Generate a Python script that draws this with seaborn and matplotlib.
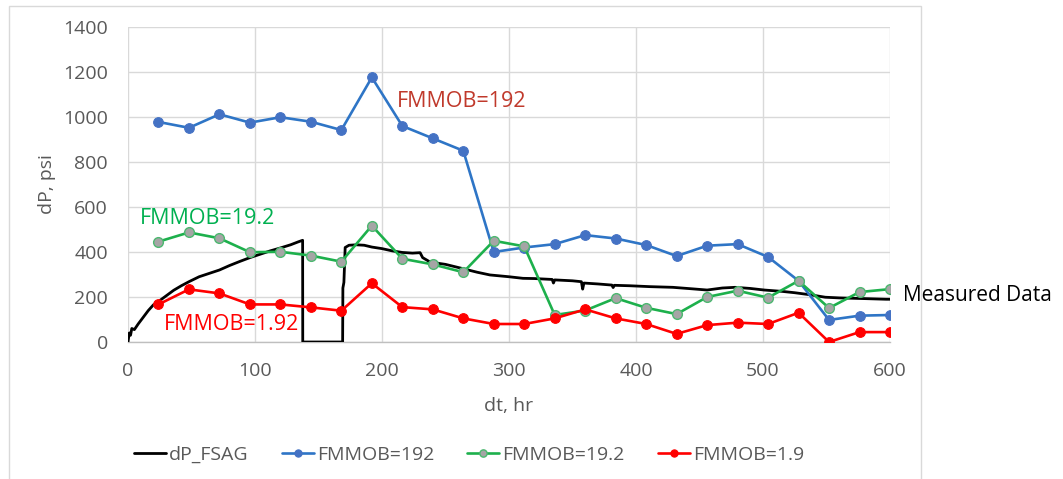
import numpy as np
import pandas as pd
import matplotlib
matplotlib.use("Agg")
import matplotlib.pyplot as plt
import seaborn as sns
from matplotlib.patches import Rectangle

# ---------------- data ----------------
dt_sim = [24, 48, 72, 96, 120, 144, 168, 192, 216, 240, 264, 288, 312,
          336, 360, 384, 408, 432, 456, 480, 504, 528, 552, 576, 600]
fmmob_192 = [978, 952, 1012, 975, 999, 979, 942, 1176, 960, 905, 850, 400, 420,
             435, 475, 460, 431, 382, 428, 435, 378, 272, 98, 117, 120]
fmmob_19_2 = [446, 487, 461, 399, 401, 384, 357, 517, 370, 345, 310, 450, 425,
              120, 140, 195, 152, 124, 200, 228, 197, 272, 151, 222, 235]
fmmob_1_9 = [167, 234, 216, 167, 167, 154, 139, 261, 155, 145, 105, 80, 80,
             105, 145, 105, 80, 36, 75, 86, 80, 130, 0, 44, 44]

dt_meas = [0, 1, 2, 3, 5, 8, 12, 16, 20, 24, 30, 36, 42, 48, 56, 64, 72, 80, 88,
           96, 104, 112, 120, 128, 134, 137.5, 137.6, 169, 169.2, 170, 171, 174,
           180, 186, 192, 200, 208, 216, 224, 230, 232, 238, 250, 263, 275, 285,
           300, 311, 320, 334, 335, 336, 350, 357, 358, 359, 370, 381, 382, 383,
           395, 411, 429, 445, 456, 468, 478, 490, 501, 515, 525, 537, 549, 560,
           573, 585, 597, 600]
dp_meas = [0, 40, 30, 60, 55, 80, 110, 140, 165, 180, 205, 230, 250, 268, 290,
           305, 320, 340, 358, 375, 390, 405, 418, 432, 445, 452, 0, 0, 240, 265,
           420, 430, 432, 430, 422, 415, 405, 398, 395, 397, 375, 355, 345, 327,
           310, 298, 290, 283, 282, 278, 262, 276, 272, 268, 235, 262, 258, 253,
           242, 252, 250, 246, 243, 236, 231, 240, 243, 238, 231, 225, 219, 210,
           199, 196, 194, 192, 190, 190]

series_names = ["dP_FSAG", "FMMOB=192", "FMMOB=19.2", "FMMOB=1.9"]
x_ticks = [0, 100, 200, 300, 400, 500, 600]
y_ticks = [0, 200, 400, 600, 800, 1000, 1200, 1400]

# ---------------- style ----------------
sns.set_theme(style="whitegrid")
plt.rcParams["font.family"] = ["Open Sans", "DejaVu Sans"]

W, H = 1063, 479
fig = plt.figure(figsize=(W / 100, H / 100), dpi=100)
fig.patch.set_facecolor("white")
# chart-area frame (bottom edge falls outside the image)
fig.add_artist(Rectangle((8.5 / W, -10 / H), (921 - 8.5) / W, (H + 10 - 5.5) / H,
                         transform=fig.transFigure, fill=False,
                         edgecolor="#D9D9D9", linewidth=1.0))

ax = fig.add_axes([128 / W, (H - 342) / H, (890 - 128) / W, (342 - 27) / H])
ax.set_facecolor("white")

df_meas = pd.DataFrame({"dt": dt_meas, "dp": dp_meas})
sns.lineplot(data=df_meas, x="dt", y="dp", ax=ax, color="black", linewidth=2.0,
             sort=False, estimator=None, label=series_names[0], zorder=3)

sns.lineplot(x=dt_sim, y=fmmob_192, ax=ax, color="#2E75C6", linewidth=1.9,
             marker="o", markersize=7, markerfacecolor="#4472C4",
             markeredgecolor="#4472C4", label=series_names[1], zorder=4)
sns.lineplot(x=dt_sim, y=fmmob_19_2, ax=ax, color="#1DB04C", linewidth=1.9,
             marker="o", markersize=7, markerfacecolor="#A5A5A5",
             markeredgecolor="#4CB870", markeredgewidth=1.0,
             label=series_names[2], zorder=4)
sns.lineplot(x=dt_sim, y=fmmob_1_9, ax=ax, color="#FF0000", linewidth=1.9,
             marker="o", markersize=7, markerfacecolor="#FF0000",
             markeredgecolor="#FF0000", label=series_names[3], zorder=5)

ax.set_xlim(0, 600)
ax.set_ylim(0, 1400)
ax.set_xticks(x_ticks)
ax.set_yticks(y_ticks)
ax.grid(True, color="#D9D9D9", linewidth=1.0)
for s in ["top", "right", "left"]:
    ax.spines[s].set_visible(False)
ax.spines["bottom"].set_visible(True)
ax.spines["bottom"].set_color("#BFBFBF")
ax.spines["bottom"].set_linewidth(1.0)
ax.tick_params(axis="both", colors="#595959", labelsize=14, length=0, pad=14.5)
ax.set_xlabel("dt, hr", fontsize=14, color="#595959", labelpad=12)
ax.set_ylabel("dP, psi", fontsize=14, color="#595959", labelpad=5)

# annotations
ax.text(212, 1071, "FMMOB=192", color="#C0392B", fontsize=15.5, va="center", ha="left")
ax.text(9, 551, "FMMOB=19.2", color="#00B050", fontsize=15.5, va="center", ha="left")
ax.text(28, 76, "FMMOB=1.92", color="#FF0000", fontsize=15.5, va="center", ha="left")
ax.text(610, 206, "Measured Data", color="black", fontsize=15, va="center",
        ha="left", clip_on=False)

handles, labels = ax.get_legend_handles_labels()
ax.get_legend().remove()
fig.legend(handles, labels, loc="center", bbox_to_anchor=(469 / W, (H - 455) / H),
           ncol=4, frameon=False, fontsize=14, labelcolor="#595959",
           handlelength=1.65, handletextpad=0.15, columnspacing=1.7, markerscale=0.75)

fig.savefig("out.png", dpi=100)
